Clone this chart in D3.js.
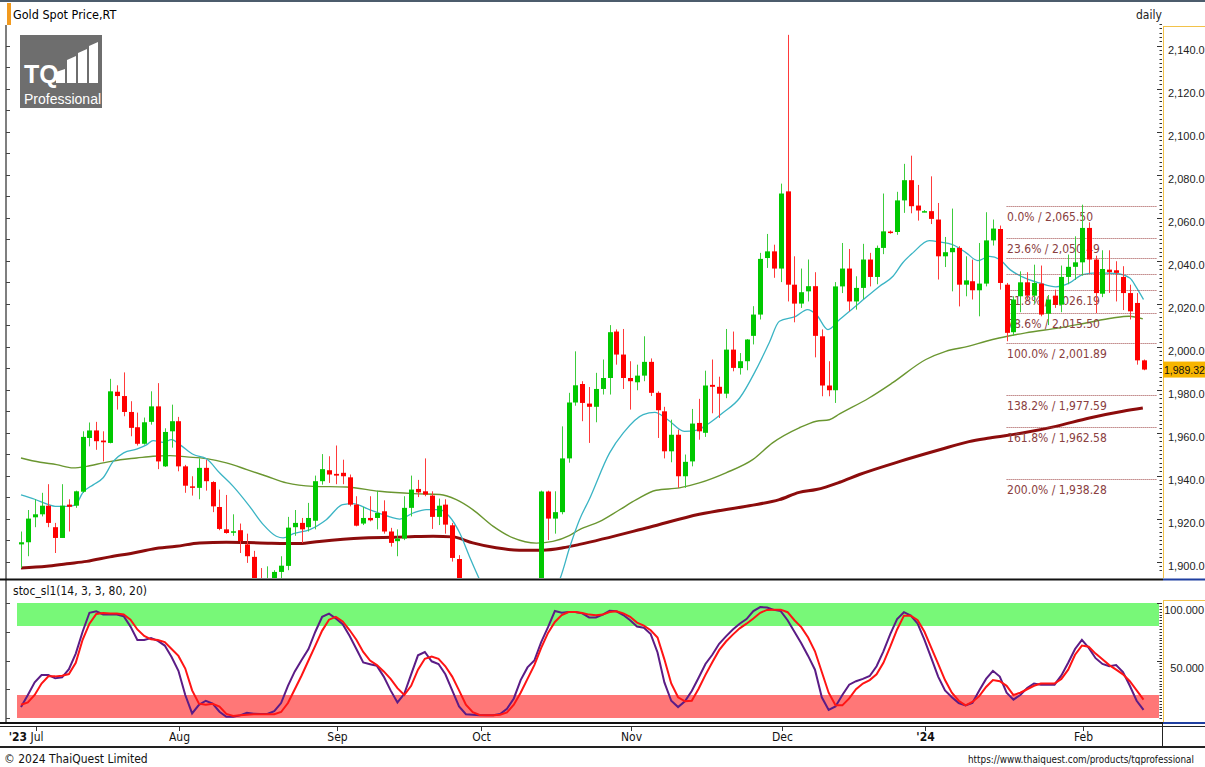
<!DOCTYPE html>
<html>
<head>
<meta charset="utf-8">
<script src="https://cdn.jsdelivr.net/npm/d3@7"></script>
<style>
  body { margin: 0; background: #fff; }
  svg { display: block; font-family: "DejaVu Sans Condensed", "Liberation Sans Narrow", "Liberation Sans", sans-serif; }
</style>
</head>
<body>
<svg id="chart" width="1205" height="767"></svg>
<script>
// ---------------- data ----------------
// daily candles, 29 Jun 2023 .. 14 Feb 2024 (weekdays)
const opens = [
  1908,1909,1920.6,1922,1926,1916,1911,1926.5,1926,1932.5,
  1957.5,1961,1956.3,1955.2,1979,1977,1969.6,1962.5,1954.8,1965,
  1972.2,1944.3,1960.6,1965.3,1944.3,1935,1934.3,1943.6,1937,1925.4,
  1915,1913.6,1914.6,1908,1902.2,1891.5,1889,1889.3,1895.2,1898,
  1916,1918,1916,1919,1937.4,1942.5,1940.8,1941.3,1939.2,1926.5,
  1917.7,1920.3,1920.3,1923.4,1914,1909.5,1910.7,1925,1933.8,1932.7,
  1930.7,1920.8,1926.5,1916.9,1901.2,1875,1864,1849,1828,1822,
  1821,1820,1833,1861,1860,1874,1868,1932.6,1920,1923,
  1948,1974,1982.6,1973.5,1972,1980.3,1985.4,2007,1996.3,1985.4,
  1983.4,1986.5,1992.9,1978.5,1969.9,1951.3,1959,1939.7,1946.6,1964.5,
  1959.9,1982.2,1981.3,1978.1,1998.6,1990,1993.2,2005,2014.9,2041.2,
  2044.3,2036.3,2072.2,2028.8,2020,2025.7,2028.1,2004.8,1981.9,1979.7,
  2028,2036.3,2021,2027.3,2040.5,2032.4,2045.9,2053.5,2053.3,2068,
  2077.4,2065.6,2062.7,2063,2059.1,2042,2043.9,2045.9,2028.8,2030.4,
  2026.2,2029.3,2049.4,2054.7,2028.8,2006.7,2023.4,2029.9,2023.7,2029.3,
  2015.3,2023.7,2019.5,2032.4,2037.1,2039.2,2055.2,2040.5,2024.6,2035.8,
  2035.5,2032.4,2024.9,2020.3,1993.6
];
const highs = [
  1914,1924,1929,1932,1936,1918,1936,1929,1933,1960.6,
  1964.7,1965,1960.6,1985,1982,1988,1974.6,1969.3,1967,1979.2,
  1983,1962,1973,1967.3,1945,1939.7,1948,1947.4,1937.4,1933.5,
  1931,1922,1917.7,1913,1905,1897,1897.8,1896,1902.5,1920.8,
  1924,1920.3,1927.3,1940,1950,1949,1954,1947.4,1940.5,1930.4,
  1925.4,1930.4,1933,1928.5,1915.7,1915,1930.4,1940,1938,1948,
  1932.7,1929.3,1929,1918,1903,1880,1880,1850,1830,1826,
  1826,1834,1865,1866,1875,1885,1933,1933,1932.7,1962.9,
  1978.5,1997.8,1983.9,1981.2,1987.8,1994,2010,2008,2008.2,1993.2,
  1991.6,2004.8,1994.5,1979.2,1972,1966,1961.4,1949.8,1971,1975.7,
  1988.8,1994,1986,2008.2,2007,1997,2003.5,2018.8,2043.6,2052.4,
  2047.4,2075.8,2145,2042,2036.3,2040.5,2034.6,2008,1993.2,2030,
  2048.2,2045.4,2032.7,2047.8,2043.6,2047,2071.2,2054,2072,2085,
  2088.8,2075.2,2063.5,2079.2,2066.8,2051,2064.2,2046.7,2042,2040.5,
  2048.2,2062.5,2059.1,2056.3,2029.6,2023.4,2035,2034.6,2038.1,2037.7,
  2024,2026.5,2037.7,2042.8,2051.3,2066,2057.8,2042.3,2044.8,2044.8,
  2039.7,2037.4,2028.8,2024.9,1994
];
const lows = [
  1897,1902.5,1916,1921,1916,1904,1911,1914,1925,1932,
  1953.6,1952,1946.6,1955,1970.7,1967.6,1958.3,1954,1954.4,1963.7,
  1943,1944,1953,1942,1932,1930.7,1929,1933,1923,1914.6,
  1913,1912,1904,1899.4,1890,1884,1885,1884,1890,1896,
  1912,1908.7,1914,1915,1935.8,1936.6,1936,1936,1925.7,1916.4,
  1917,1918.7,1915,1913,1907,1902.5,1910,1921,1930,1930.4,
  1915.2,1917,1913,1900,1874,1858,1846,1826,1816,1815,
  1813,1810,1830,1855,1857,1866,1868,1910,1913,1922,
  1946,1972.5,1965.3,1955.2,1964.8,1977.7,1977.7,1991.6,1980.3,1970.7,
  1979.7,1983.9,1977,1957.5,1948,1946.2,1934.3,1934.3,1944.3,1956.7,
  1958,1969,1966.8,1976,1988.5,1987,1989,2001,2012.6,2036.6,
  2032,2030,2021,2011.3,2018,2021,1995,1976.9,1976.9,1973.8,
  2024.9,2016.4,2017.2,2022.1,2028,2029,2043,2052.5,2052,2062.2,
  2062,2058.6,2062.5,2057,2031.2,2037,2025.7,2018.7,2023.4,2021.9,
  2014.1,2028,2047,2026.5,2002.5,2005,2016,2021.9,2020,2014.1,
  2010,2018,2016,2029,2031,2033,2034,2015.6,2023,2025,
  2021,2017,2012.6,1991.6,1989
];
const closes = [
  1909,1920,1922,1926,1918,1911,1926,1925.5,1932.7,1958,
  1961,1956,1955.5,1979.2,1977,1969.6,1962.2,1954.8,1964.8,1972.2,
  1946.6,1960.3,1965.3,1944.3,1935.3,1934.3,1943.6,1937.4,1925.7,1915.2,
  1913.3,1914.1,1909.5,1902.5,1891.5,1889,1889.3,1895.2,1898.1,1915.8,
  1918,1915,1920.3,1937.4,1943,1940.5,1940,1939.7,1926.5,1916.7,
  1920.3,1919.2,1922.6,1914,1908.7,1910.7,1925,1933.5,1932.2,1931.2,
  1920.8,1926,1917.2,1901.7,1875,1864,1849,1828,1822,1821,
  1820,1833,1861,1860,1874,1868,1932.6,1920,1923,1948,
  1974,1982,1973.8,1972,1980.3,1985.4,2006.7,1996.3,1985.4,1983.9,
  1986.5,1992.9,1978.5,1970.4,1951.3,1959,1939.7,1946.4,1964.2,1960.6,
  1981.9,1981.3,1978.1,1998.6,1990.1,1993.2,2003.3,2014.9,2040.8,2044.3,
  2036.3,2071.2,2028.8,2020,2025.3,2028.1,2005,1981.9,1979.7,2028,
  2036.3,2021,2027.3,2040.5,2032.4,2045.9,2053.6,2053,2068,2077.4,
  2065.3,2063.3,2063,2059.4,2042,2043.9,2045.9,2028.8,2030.8,2026.2,
  2029.3,2049.4,2054.9,2029.6,2006.4,2021.9,2029.9,2023.7,2029.6,2014.9,
  2021.9,2019.5,2032.4,2037.1,2039.2,2055.2,2040.5,2024.9,2036.1,2034.6,
  2034.3,2024.9,2016.4,1993.6,1989.32
];

// moving averages, [candle index, value]
const maFast = [
  [0,1931],[2,1929],[4,1926.5],[5,1925.7],[7,1925.7],[8,1926.5],[9,1932],[10.6,1935.8],[12,1939],
  [13.5,1946.7],[15,1950.6],[17,1952.4],[18.4,1954.4],[19.3,1956.3],[20.8,1955.5],[22,1956.7],
  [23.2,1954.4],[25.2,1949.8],[27.1,1947.8],[29,1941.3],[31,1935],[33.4,1925.7],[35.4,1917.2],
  [37.3,1911.8],[38.3,1911],[39.8,1913],[42.2,1914.9],[44.6,1919.5],[47,1926.5],[48.5,1927],
  [50.9,1924.2],[53.9,1920.8],[55.3,1919.8],[57.3,1922.6],[59.2,1924.2],[61.2,1924.2],[62.6,1921],
  [64.1,1913.3],[65.5,1902.5],[67,1891.6],[69,1878],[71,1868],[73,1866],[75,1874],[77,1884],
  [78.7,1891.6],[80.2,1907],[81.6,1919.5],[83,1928.8],[86,1950.6],[88,1959.9],[90.9,1968.4],
  [92.6,1969.4],[94.5,1966],[96.9,1960.6],[98.6,1961],[100.6,1964.5],[102.5,1969.1],[105,1976.1],
  [107.4,1989.3],[109.3,2001.7],[110.8,2011.8],[113.2,2014.1],[114.9,2017.2],[116.2,2014.9],
  [117.9,2007.9],[119.6,2012.6],[122.5,2020.3],[125.4,2028],[127.4,2032.7],[128.8,2038.9],
  [130.3,2043.6],[132.7,2049.3],[134.2,2048.7],[136.1,2047.4],[138.1,2043.6],[139.8,2040],
  [141.5,2042],[143,2040.5],[144.5,2035.8],[146.3,2032.4],[148.8,2029.6],[151.2,2027.8],
  [153.2,2029.6],[155.1,2033.5],[157.1,2034.3],[160,2034],[162,2031.9],[163,2027.3],[164,2021.9]
];
const maMid = [
  [0,1948.2],[2.8,1946.2],[5.2,1945.1],[7.6,1943.6],[9.6,1944.3],[12,1945.9],[14.5,1947.4],
  [16.9,1948.2],[19.3,1949],[21.8,1949.3],[24.2,1948.7],[27.1,1947.9],[30,1945.9],[33,1942.8],
  [35.9,1939.7],[38.8,1936.6],[42.7,1935],[47.5,1934.7],[52.4,1932.7],[57.3,1931.6],[61.2,1931.2],
  [63.6,1928.8],[66,1924.2],[69,1916.4],[71.9,1911],[75.3,1908.6],[77.7,1909.4],[80.1,1912.1],
  [81.6,1914.9],[84.5,1918.6],[87.4,1924],[89.9,1928.8],[92.8,1933.2],[96.2,1934.3],[99.1,1936.6],
  [103,1941.3],[106.9,1947.4],[109.8,1955.2],[113.7,1962.2],[116.2,1965.3],[118.1,1966],
  [119.6,1968.7],[123.9,1976.1],[127.3,1983.1],[132.2,1994],[135.1,1997.8],[138.5,2000.2],
  [141,2002.5],[142.9,2004],[146.8,2006.4],[151.7,2008.7],[155.6,2011],[159.5,2013.3],
  [161.9,2014.1],[163.9,2012.9]
];
const maSlow = [
  [0,1897],[3.75,1897.8],[6.7,1899],[9.6,1900.1],[13,1902.2],[16.4,1904],[19.3,1905.9],
  [22.7,1907.1],[26.1,1908.7],[30,1909],[34.9,1908.7],[40.7,1908.4],[43.6,1909.4],[50,1911],
  [56.3,1911.5],[60.2,1911.8],[63.1,1911.5],[66,1908.7],[69.4,1906.4],[72.8,1905.3],[76.2,1905.3],
  [79.2,1906.4],[81.6,1908],[91.8,1916],[99.1,1922],[106.4,1926],[110.8,1928.8],[113.7,1932.2],
  [116.2,1933.5],[119.6,1936.9],[122.5,1940.5],[128.3,1946.5],[134.2,1952],[138.5,1955.8],
  [141.5,1957.5],[146.3,1959.8],[151.2,1962.9],[156.1,1966.8],[161,1969.9],[163.9,1971.4]
];

// stochastic %K and %D per candle
const stochK = [
  9.5,20,31,37.4,37.4,34.5,35.3,42.5,56,75,
  91.5,92.8,90,90,90,88.5,79.5,67.8,67.8,69.5,
  67,63,53,41,20,4,11.5,15,12.5,5.5,
  1,1,2.3,4.6,3.7,3.5,3.5,6,13,28,
  40.5,50.5,60,75,88,90.8,86.5,81.5,71.5,60,
  48.3,46.8,45.3,36,24,13.5,21,38,54.5,57.4,
  49.3,47,38,24,10,3.3,2.9,2.3,2.3,2.3,
  3.5,8,17,33,44,50,66,79,93,91.5,
  92.2,92.2,91,87.5,87.5,89.9,93.3,92.8,89.5,85,
  79.5,78.5,73,57,31,15,9.5,14.5,23.5,35,
  47,55,64.5,71,77,82,86,93,96.5,96,
  94,93,85,75,65,54,42,18,7,10,
  20,29,32,34,36.5,45,58,73,86,92,
  89,82,68,52,36,24,18,13,11,13,
  24,34,41,36,22,16,20,26,30,29,
  29,29,37,48,60,68,61,52,47,45,
  46,40,28,15,7
];
const stochD = [
  11.5,13.5,20,30,36.2,36.2,36.8,38.2,48,68,
  82,90.5,91.4,90.8,90.8,90,85.5,77,71.3,68.4,
  67.8,66,60,54,43,24,12.5,11.5,12.4,10,
  3.5,1.7,2.3,2.9,3.2,3.2,3.2,3.2,5.2,13,
  25,37,50,63,76,85.5,88,84,76.5,68,
  57.5,50,46,40.5,34,26,20,28,42,51.5,
  53.4,51.5,45,36,24,11.5,5,2.6,2.3,2.3,
  2.8,4.8,11.5,22,34,46,61,74,83.5,89.5,
  92.2,92.2,91.3,89.9,89.3,89.9,92.2,92.8,91,88,
  83,80.3,76.3,70,51,30,18,14.5,15,25.5,
  37.5,48.5,59,66.5,72.5,78,82,86.5,91.5,94,
  94.2,94.2,92,85,79,70,58,40,22,11,
  11,17,25,30,33,38,48,62,77,89,
  89,85,75,61,47,33,22,15,11,14,
  19,27,33,32,28,20,22,25,28,30,
  30,30,34,42,55,63,62,56,51,46,
  42,38,32,24,16
];

// fibonacci retracement from the 17 Jan low to the 1 Feb high
const fibStartIndex = 144;
const fibPct = [0, 23.6, 38.2, 50, 61.8, 78.6, 100, 138.2, 161.8, 200];
const fibVal = [2065.50, 2050.49, 2041.20, 2033.70, 2026.19, 2015.50, 2001.89, 1977.59, 1962.58, 1938.28];
const fibLabelled = [true, true, false, false, true, true, true, true, true, true];

const priceTicks = [1900,1920,1940,1960,1980,2000,2020,2040,2060,2080,2100,2120,2140];
const stochTicks = [100, 50];
const monthLabels = ["Jul","Aug","Sep","Oct","Nov","Dec","","Feb"];
const yearLabels  = ["'23","","","","","","'24",""];
const lastPrice = 1989.32;

// ---------------- scales ----------------
const svg = d3.select("#chart");
const N = closes.length;
const days = d3.timeDay.range(new Date(2023, 5, 29), new Date(2024, 1, 15))
               .filter(d => d.getDay() !== 0 && d.getDay() !== 6);

const x = d3.scaleLinear().domain([0, N - 1]).range([21, 1143.5]);
const y = d3.scaleLinear().domain([1900, 2140]).range([561.6, 45.6]);
const ys = d3.scaleLinear().domain([0, 100]).range([718, 603]);

const UP = "#00c800", DOWN = "#ff0000";
const AXFONT = "Liberation Sans, Arial, sans-serif";

// ---------------- frame ----------------
svg.append("rect").attr("x", 0).attr("y", 0).attr("width", 1205).attr("height", 2).attr("fill", "#4c5c6c");
svg.append("rect").attr("x", 7).attr("y", 3).attr("width", 4).attr("height", 22).attr("fill", "#f29a1e");
svg.append("line").attr("x1", 6).attr("x2", 6).attr("y1", 25).attr("y2", 723).attr("stroke", "#555").attr("stroke-width", 1.5);

svg.append("text").attr("x", 13).attr("y", 19).attr("font-size", 12.5).attr("fill", "#000").text("Gold Spot Price,RT");
svg.append("text").attr("x", 1136).attr("y", 19).attr("font-size", 12).attr("fill", "#222").text("daily");

// logo
const logo = svg.append("g");
logo.append("rect").attr("x", 20).attr("y", 35).attr("width", 82).attr("height", 73).attr("fill", "#6e6e6e");
logo.append("text").attr("x", 24).attr("y", 83).attr("font-size", 25).attr("font-weight", "bold")
    .attr("fill", "#fff").attr("font-family", AXFONT).text("TQ");
[[56,72,65,69,83],[67,60,76,56,83],[78,53,87,49,83],[89,46,98,42,83]].forEach(b => {
  logo.append("polygon").attr("fill", "#fff")
      .attr("points", `${b[0]},${b[1]} ${b[2]},${b[3]} ${b[2]},${b[4]} ${b[0]},${b[4]}`);
});
logo.append("text").attr("x", 24).attr("y", 104).attr("font-size", 14).attr("fill", "#fff")
    .attr("font-family", AXFONT).text("Professional");

// clip paths
const defs = svg.append("defs");
defs.append("clipPath").attr("id", "clipMain").append("rect").attr("x", 12).attr("y", 26).attr("width", 1150).attr("height", 552);
defs.append("clipPath").attr("id", "clipStoch").append("rect").attr("x", 12).attr("y", 598).attr("width", 1150).attr("height", 124);

// ---------------- price panel ----------------
const main = svg.append("g").attr("clip-path", "url(#clipMain)");

// moving averages
const maLine = d3.line().x(d => x(d[0])).y(d => y(d[1])).curve(d3.curveMonotoneX);
main.append("path").datum(maSlow).attr("d", maLine).attr("fill", "none").attr("stroke", "#8c0c0c").attr("stroke-width", 3);
main.append("path").datum(maMid).attr("d", maLine).attr("fill", "none").attr("stroke", "#6a9630").attr("stroke-width", 1.4);
main.append("path").datum(maFast).attr("d", maLine).attr("fill", "none").attr("stroke", "#3ab4c4").attr("stroke-width", 1.3);

// fibonacci lines + labels
const fib = main.append("g");
fibVal.forEach((v, k) => {
  const yy = Math.round(y(v)) + 0.5;
  fib.append("line").attr("x1", x(fibStartIndex)).attr("x2", 1157).attr("y1", yy).attr("y2", yy)
     .attr("stroke", "#a04848").attr("stroke-width", 1).attr("stroke-dasharray", "1,1");
  if (fibLabelled[k]) {
    fib.append("text").attr("x", x(fibStartIndex) + 0.5).attr("y", yy + 14)
       .attr("font-size", 12).attr("fill", "#8a4040")
       .text(`${fibPct[k].toFixed(1)}% / ${d3.format(",.2f")(v)}`);
  }
});

// candles
const idx = d3.range(N);
main.selectAll("line.wick").data(idx).join("line").attr("class", "wick")
  .attr("x1", i => Math.round(x(i)) + 0.5).attr("x2", i => Math.round(x(i)) + 0.5)
  .attr("y1", i => y(highs[i])).attr("y2", i => y(lows[i]))
  .attr("stroke", i => closes[i] >= opens[i] ? "#3ccc3c" : "#ff3a3a").attr("stroke-width", 1);
main.selectAll("rect.body").data(idx).join("rect").attr("class", "body")
  .attr("x", i => Math.round(x(i)) - 2)
  .attr("width", 5)
  .attr("y", i => y(Math.max(opens[i], closes[i])))
  .attr("height", i => Math.max(1.5, Math.abs(y(opens[i]) - y(closes[i]))))
  .attr("fill", i => closes[i] >= opens[i] ? UP : DOWN);

// price axis
const axisG = svg.append("g");
axisG.append("line").attr("x1", 1163.5).attr("x2", 1163.5).attr("y1", 26).attr("y2", 578).attr("stroke", "#f2c24a");
axisG.append("line").attr("x1", 1163).attr("x2", 1205).attr("y1", 26.5).attr("y2", 26.5).attr("stroke", "#f2c24a");
const minor = d3.range(1896, 2152, 2);
axisG.selectAll("line.mt").data(minor).join("line")
  .attr("x1", d => priceTicks.includes(d) ? 1157 : 1159.5).attr("x2", 1162)
  .attr("y1", d => Math.round(y(d)) + 0.5).attr("y2", d => Math.round(y(d)) + 0.5)
  .attr("stroke", "#333").attr("stroke-width", 1);
axisG.selectAll("text.pt").data(priceTicks).join("text")
  .attr("x", 1168).attr("y", d => y(d) + 8).attr("font-size", 11).attr("fill", "#222")
  .attr("font-family", AXFONT)
  .text(d => d3.format(",.1f")(d));
// left ticks
svg.selectAll("line.lt").data(d3.range(1900, 2150, 10)).join("line")
  .attr("x1", 6).attr("x2", 10).attr("y1", d => Math.round(y(d)) + 0.5).attr("y2", d => Math.round(y(d)) + 0.5)
  .attr("stroke", "#444");

// last price tag
axisG.append("rect").attr("x", 1163).attr("y", y(lastPrice) - 8).attr("width", 42).attr("height", 16).attr("fill", "#f7b500");
axisG.append("text").attr("x", 1164).attr("y", y(lastPrice) + 4).attr("font-size", 10.5).attr("fill", "#111")
  .attr("font-family", AXFONT).text(d3.format(",.2f")(lastPrice));

// panel separators
svg.append("rect").attr("x", 0).attr("y", 578.5).attr("width", 1163).attr("height", 2).attr("fill", "#111");
svg.append("rect").attr("x", 1163).attr("y", 578.5).attr("width", 42).attr("height", 2).attr("fill", "#1f3fa0");

// ---------------- stochastic panel ----------------
svg.append("text").attr("x", 13).attr("y", 595).attr("font-size", 12).attr("fill", "#111").text("stoc_sl1(14, 3, 3, 80, 20)");

const st = svg.append("g").attr("clip-path", "url(#clipStoch)");
st.append("rect").attr("x", 17).attr("width", 1142).attr("y", ys(100)).attr("height", ys(80) - ys(100)).attr("fill", "#78f878");
st.append("rect").attr("x", 17).attr("width", 1142).attr("y", ys(20)).attr("height", ys(0) - ys(20)).attr("fill", "#ff7777");

const kLine = d3.line().x((d, i) => x(i)).y(d => ys(d));
st.append("path").datum(stochK).attr("d", kLine).attr("fill", "none").attr("stroke", "#5b1c86").attr("stroke-width", 2);
st.append("path").datum(stochD).attr("d", kLine).attr("fill", "none").attr("stroke", "#ff1414").attr("stroke-width", 2);

// stoch axis
const sAx = svg.append("g");
sAx.append("line").attr("x1", 1163.5).attr("x2", 1163.5).attr("y1", 600).attr("y2", 722).attr("stroke", "#f2c24a");
sAx.append("line").attr("x1", 1163).attr("x2", 1205).attr("y1", 600.5).attr("y2", 600.5).attr("stroke", "#f2c24a");
sAx.selectAll("line.smt").data(d3.range(0, 101, 2.5)).join("line")
  .attr("x1", d => stochTicks.includes(d) ? 1157 : 1159.5).attr("x2", 1162)
  .attr("y1", d => Math.round(ys(d)) + 0.5).attr("y2", d => Math.round(ys(d)) + 0.5)
  .attr("stroke", "#333");
sAx.selectAll("text.st").data(stochTicks).join("text")
  .attr("x", 1204).attr("text-anchor", "end").attr("y", d => ys(d) + 11).attr("font-size", 11).attr("fill", "#222")
  .attr("font-family", AXFONT)
  .text(d => d3.format(".3f")(d));
svg.selectAll("line.slt").data([0, 25, 50, 75, 100]).join("line")
  .attr("x1", 6).attr("x2", 10).attr("y1", d => Math.round(ys(d)) + 0.5).attr("y2", d => Math.round(ys(d)) + 0.5)
  .attr("stroke", "#444");

svg.append("rect").attr("x", 0).attr("y", 722).attr("width", 1163).attr("height", 2).attr("fill", "#111");
svg.append("rect").attr("x", 1163).attr("y", 722).attr("width", 42).attr("height", 2).attr("fill", "#1f3fa0");

// ---------------- date axis ----------------
svg.append("line").attr("x1", 0).attr("x2", 1205).attr("y1", 726.5).attr("y2", 726.5).attr("stroke", "#222");
svg.append("line").attr("x1", 1162.5).attr("x2", 1162.5).attr("y1", 724).attr("y2", 747).attr("stroke", "#222");
svg.append("rect").attr("x", 0).attr("y", 746).attr("width", 1205).attr("height", 2).attr("fill", "#222");

const monthStarts = idx.filter(i => i > 0 && days[i].getMonth() !== days[i - 1].getMonth());
const dateAx = svg.append("g");
monthStarts.forEach((i, k) => {
  const xx = Math.round(x(i)) + 1.5;
  dateAx.append("line").attr("x1", xx).attr("x2", xx).attr("y1", 727).attr("y2", 731).attr("stroke", "#333");
  const t = dateAx.append("text").attr("x", xx).attr("y", 741).attr("font-size", 12).attr("fill", "#111");
  if (k === 0) {
    t.attr("text-anchor", "end").attr("x", xx + 7);
    t.append("tspan").attr("font-weight", "bold").text(yearLabels[k]);
    t.append("tspan").text(" " + monthLabels[k]);
  } else if (yearLabels[k]) {
    t.attr("text-anchor", "middle").attr("font-weight", "bold").text(yearLabels[k]);
  } else {
    t.attr("text-anchor", "middle").text(monthLabels[k]);
  }
});

// footer
svg.append("text").attr("x", 4).attr("y", 763).attr("font-size", 12).attr("fill", "#111").text("\u00a9 2024 ThaiQuest Limited");
svg.append("text").attr("x", 968).attr("y", 763).attr("font-size", 10).attr("fill", "#111")
  .attr("textLength", 226).attr("lengthAdjust", "spacingAndGlyphs")
  .text("https://www.thaiquest.com/products/tqprofessional");
</script>
</body>
</html>
